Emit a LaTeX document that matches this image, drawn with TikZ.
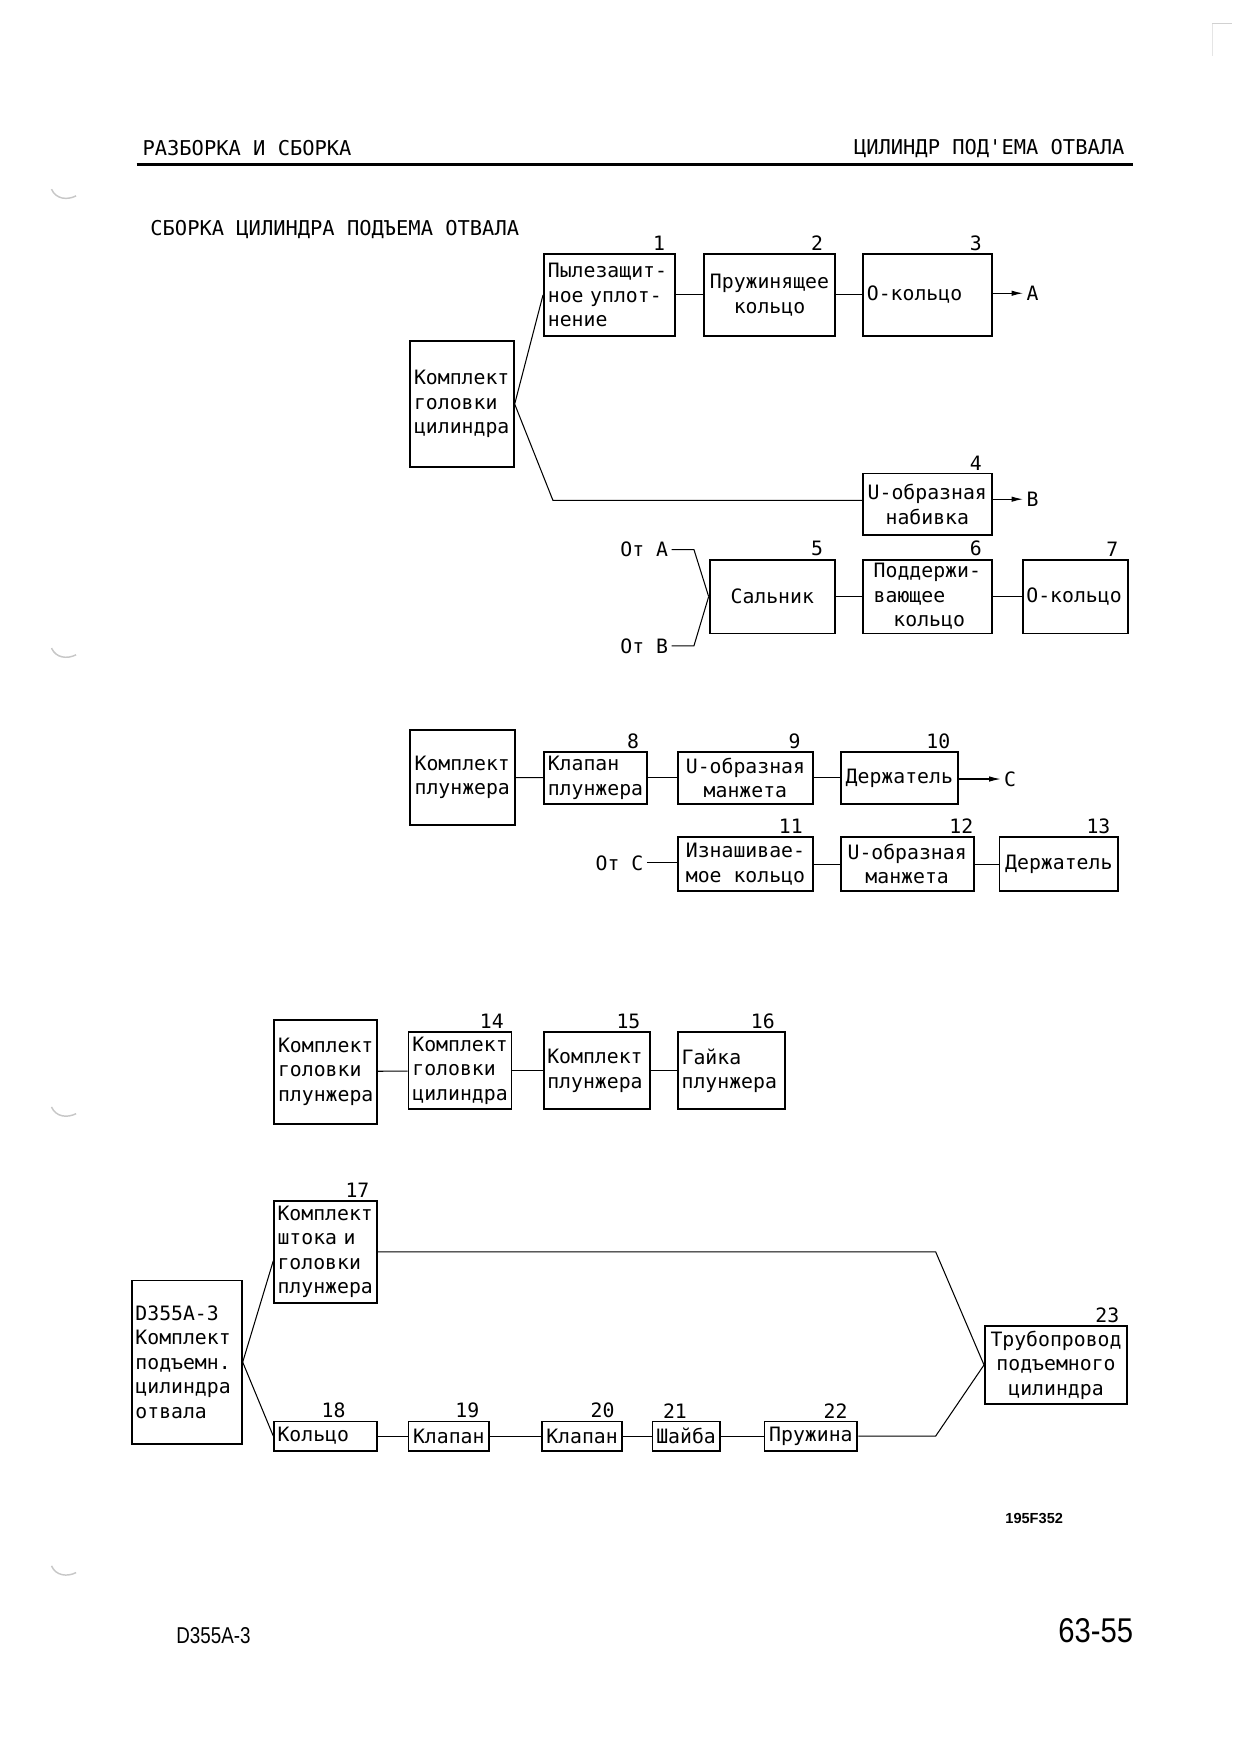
\documentclass[tikz,border=0pt]{standalone}
\usepackage{fontspec}
\setmainfont{Liberation Sans}
\newfontfamily\plotfont{DejaVu Sans Mono}
\usetikzlibrary{positioning, arrows, arrows.meta}
\def\px{0.5373pt}
\tikzstyle{arrow} = [-{Latex[length=5.5pt,width=2.6pt]}]

\begin{document}
\begin{tikzpicture}[x=0.5373pt, y=-0.5373pt]
    \tikzstyle{every node}=[font=\plotfont\fontsize{9.5}{11.8}\selectfont]
    \tikzset{box/.style 2 args={draw, line width=0.9pt, minimum width=#1*\px, minimum height=#2*\px, inner sep=1.5pt},
             lft/.style={text width=#1*\px, align=left},
             num/.style={inner sep=0pt},
             head/.style={font=\plotfont\fontsize{9.8}{12}\selectfont, inner sep=0pt}}
    \tikzstyle{link} = [line width=0.5pt]

    \useasboundingbox (0,0) rectangle (1108,1568);

    % page header
    \node[head, anchor=base west] (hdl) at (127,139) {РАЗБОРКА И СБОРКА};
    \node[head, anchor=base east] (hdr) at (1005,138) {ЦИЛИНДР ПОД'ЕМА ОТВАЛА};
    \draw[line width=1.3pt] (122,147) -- (1012,147);
    \node[head, anchor=base west] (title) at (134,210) {СБОРКА ЦИЛИНДРА ПОДЪЕМА ОТВАЛА};

    % cylinder head
    \node[box={93}{112}, align=left] (chead) at (412.5,361) {Комплект\\головки\\цилиндра};
    \node[box={117}{73}, lft=110] (b1) at (544.5,263.5) {Пылезащит-\\ное уплот-\\нение};
    \node[box={117}{73}, align=center] (b2) at (687.5,263.5) {Пружинящее\\кольцо};
    \node[box={115}{73}, lft=108] (b3) at (828.5,263.5) {О-кольцо};
    \node[box={115}{55}, align=center] (b4) at (828.5,450.5) {U-образная\\набивка};
    \node[num, above left=1pt and 5pt of b1.north east] (n1) {1};
    \node[num, above left=1pt and 6pt of b2.north east] (n2) {2};
    \node[num, above left=1pt and 5pt of b3.north east] (n3) {3};
    \node[num, above left=1pt and 5pt of b4.north east] (n4) {4};
    \node[anchor=west, inner sep=1.5pt] (pA) at (914,262) {A};
    \node[anchor=west, inner sep=1.5pt] (pB) at (914,446) {B};
    \coordinate (hb) at (494,447);

    \draw[link] (chead.east) -- (b1.west);
    \draw[link] (chead.east) -- (hb) -- (hb -| b4.west);
    \draw[link] (b1) -- (b2);
    \draw[link] (b2) -- (b3);
    \draw[link, arrow] (b3.east |- pA) -- (pA.west);
    \draw[link, arrow] (b4.east |- pB) -- (pB.west);

    \node[box={112}{66}, align=center] (b5) at (690,533) {Сальник};
    \node[box={115}{66}, align=left] (b6) at (828.5,533) {Поддержи-\\вающее\\\hspace*{1em}кольцо};
    \node[box={94}{66}, lft=88] (b7) at (961,533) {О-кольцо};
    \node[num, above left=1pt and 6pt of b5.north east] (n5) {5};
    \node[num, above left=1pt and 5pt of b6.north east] (n6) {6};
    \node[num, above left=1pt and 5pt of b7.north east] (n7) {7};
    \node[anchor=east, inner sep=1.5pt] (fromA) at (600,491) {От A};
    \node[anchor=east, inner sep=1.5pt] (fromB) at (600,577) {От B};
    \draw[link] (fromA.east) -- ++(20,0) -- (b5.west);
    \draw[link] (fromB.east) -- ++(20,0) -- (b5.west);
    \draw[link] (b5) -- (b6);
    \draw[link] (b6) -- (b7);

    % plunger
    \node[box={94}{85}, align=left] (pkit) at (413,694.5) {Комплект\\плунжера};
    \node[box={92}{46}, align=left] (b8) at (532,695) {Клапан\\плунжера};
    \node[box={120}{46}, align=center] (b9) at (666,695) {U-образная\\манжета};
    \node[box={105}{46}] (b10) at (803.5,695) {Держатель};
    \node[num, above left=1pt and 4pt of b8.north east] (n8) {8};
    \node[num, above left=1pt and 6pt of b9.north east] (n9) {9};
    \node[num, above left=1pt and 4pt of b10.north east] (n10) {10};
    \node[anchor=west, inner sep=1.5pt] (pC) at (894,696) {C};
    \draw[link] (pkit) -- (b8);
    \draw[link] (b8) -- (b9);
    \draw[link] (b9) -- (b10);
    \draw[link, arrow] (b10.east |- pC) -- (pC.west);

    \node[box={120}{48}, align=left] (b11) at (666,772) {Изнашивае-\\мое кольцо};
    \node[box={119}{48}, align=center] (b12) at (810.5,772) {U-образная\\манжета};
    \node[box={106}{48}] (b13) at (946,772) {Держатель};
    \node[num, above left=1pt and 5pt of b11.north east] (n11) {11};
    \node[num, above left=1pt and 0.5pt of b12.north east] (n12) {12};
    \node[num, above left=1pt and 4pt of b13.north east] (n13) {13};
    \node[anchor=east, inner sep=1.5pt] (fromC) at (578,771) {От C};
    \draw[link] (fromC.east) -- (fromC.east -| b11.west);
    \draw[link] (b11) -- (b12);
    \draw[link] (b12) -- (b13);

    % plunger head
    \node[box={92}{93}, align=left] (phead) at (291,957.5) {Комплект\\головки\\плунжера};
    \node[box={92}{69}, align=left] (b14) at (411,956.5) {Комплект\\головки\\цилиндра};
    \node[box={95}{69}, lft=89] (b15) at (533.5,956.5) {Комплект\\плунжера};
    \node[box={95}{69}, lft=89] (b16) at (653.5,956.5) {Гайка\\плунжера};
    \node[num, above left=1pt and 4pt of b14.north east] (n14) {14};
    \node[num, above left=1pt and 5pt of b15.north east] (n15) {15};
    \node[num, above left=1pt and 5pt of b16.north east] (n16) {16};
    \draw[link] (phead) -- (b14);
    \draw[link] (b14) -- (b15);
    \draw[link] (b15) -- (b16);

    % whole cylinder
    \node[box={98}{146}, lft=92] (kit) at (167,1217) {D355A-3\\Комплект\\подъемн.\\цилиндра\\отвала};
    \node[box={92}{91}, lft=86] (b17) at (291,1118.5) {Комплект\\штока и\\головки\\плунжера};
    \node[box={92}{26}, lft=86] (b18) at (291,1283) {Кольцо};
    \node[box={72}{26}] (b19) at (401,1283) {Клапан};
    \node[box={72}{26}] (b20) at (520,1283) {Клапан};
    \node[box={60}{26}] (b21) at (613,1283) {Шайба};
    \node[box={83}{26}] (b22) at (724.5,1283) {Пружина};
    \node[box={127}{69}, align=center] (b23) at (943.5,1219.5) {Трубопровод\\подъемного\\цилиндра};
    \node[num, above left=1pt and 4pt of b17.north east] (n17) {17};
    \node[num, above left=1pt and 15.5pt of b18.north east] (n18) {18};
    \node[num, above left=1pt and 5pt of b19.north east] (n19) {19};
    \node[num, above left=1pt and 4pt of b20.north east] (n20) {20};
    \node[num, above left=1pt and 16pt of b21.north east] (n21) {21};
    \node[num, above left=1pt and 5pt of b22.north east] (n22) {22};
    \node[num, above left=1pt and 4pt of b23.north east] (n23) {23};
    \coordinate (jn) at (836,1200);

    \draw[link] (kit.east) -- ([yshift=-8*\px]b17.west);
    \draw[link] (kit.east) -- (b18.west);
    \draw[link] (b17.east) -- (b17.east -| jn) -- (b23.west);
    \draw[link] (b18) -- (b19);
    \draw[link] (b19) -- (b20);
    \draw[link] (b20) -- (b21);
    \draw[link] (b21) -- (b22);
    \draw[link] (b22.east) -- (b22.east -| jn) -- (b23.west);

    % footer
    \node[font=\bfseries\fontsize{7}{8}\selectfont] (code) at (924,1357) {195F352};
    \node[anchor=west, font=\fontsize{11}{12}\selectfont] (model) at (151,1461) {\scalebox{0.82}[1]{D355A-3}};
    \node[anchor=east, font=\fontsize{16.5}{17}\selectfont] (page) at (1019,1457) {\scalebox{0.85}[1]{63-55}};

    % scan marks
    \foreach \yy in {175,585,995,1405}
        \draw[black!22, line width=0.7pt] (46,\yy-6) .. controls (50,\yy+3) and (60,\yy+4) .. (68,\yy);
    \draw[black!18, line width=0.7pt] (1083,21) -- (1101,21);
    \draw[black!10, line width=0.5pt] (1083,21) -- (1083,50);
\end{tikzpicture}
\end{document}
